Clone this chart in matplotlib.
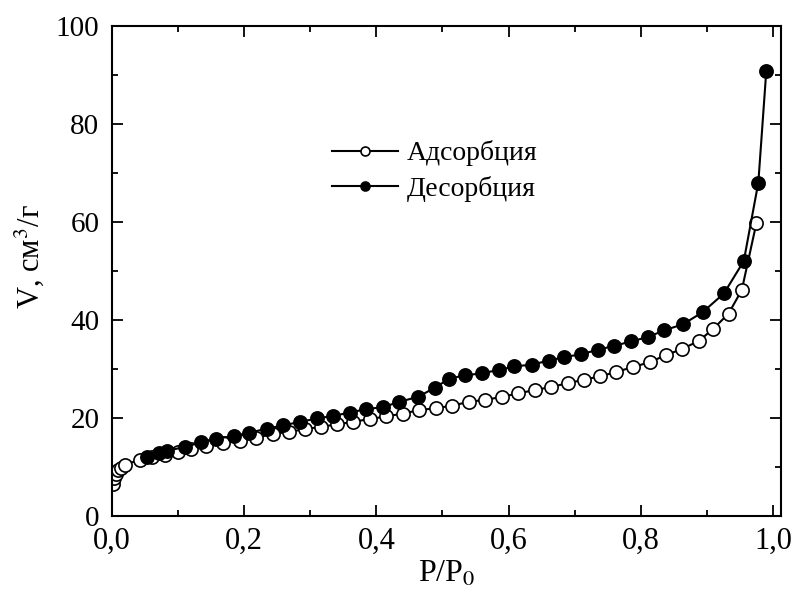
import matplotlib
matplotlib.use("Agg")
import matplotlib.pyplot as plt
from matplotlib.ticker import MultipleLocator

plt.rcParams['font.family'] = ['Liberation Serif', 'DejaVu Serif']
plt.rcParams['mathtext.fontset'] = 'stix'

# adsorption branch
p_ads = [0.001, 0.003, 0.006, 0.009, 0.014, 0.020, 0.043, 0.060, 0.080, 0.100,
         0.120, 0.143, 0.168, 0.193, 0.218, 0.243, 0.268, 0.292, 0.316, 0.341,
         0.365, 0.390, 0.415, 0.440, 0.465, 0.490, 0.515, 0.540, 0.565, 0.590,
         0.614, 0.640, 0.664, 0.690, 0.714, 0.739, 0.763, 0.789, 0.814, 0.838,
         0.863, 0.888, 0.910, 0.933, 0.953, 0.975]
v_ads = [6.6, 7.8, 8.6, 9.3, 9.8, 10.5, 11.5, 12.0, 12.5, 13.0,
         13.6, 14.3, 14.9, 15.4, 16.0, 16.7, 17.2, 17.7, 18.2, 18.7,
         19.2, 19.8, 20.3, 20.9, 21.6, 22.0, 22.5, 23.3, 23.7, 24.3,
         25.0, 25.7, 26.3, 27.1, 27.8, 28.5, 29.4, 30.4, 31.4, 32.8,
         34.1, 35.7, 38.2, 41.3, 46.1, 59.7]

# desorption branch
p_des = [0.053, 0.071, 0.084, 0.110, 0.135, 0.158, 0.184, 0.208, 0.234, 0.259,
         0.285, 0.310, 0.334, 0.360, 0.384, 0.410, 0.435, 0.463, 0.489, 0.510,
         0.534, 0.560, 0.585, 0.609, 0.636, 0.661, 0.684, 0.710, 0.735, 0.760,
         0.785, 0.811, 0.836, 0.864, 0.894, 0.926, 0.956, 0.978, 0.990]
v_des = [12.0, 12.9, 13.3, 14.1, 15.0, 15.8, 16.3, 17.0, 17.8, 18.5,
         19.2, 19.9, 20.4, 21.1, 21.8, 22.2, 23.3, 24.3, 26.2, 28.0,
         28.7, 29.1, 29.8, 30.5, 30.9, 31.7, 32.4, 33.0, 33.9, 34.7,
         35.6, 36.5, 37.9, 39.1, 41.6, 45.4, 52.0, 68.0, 90.7]

fig = plt.figure(figsize=(7.97, 5.94), dpi=100)
ax = fig.add_axes([0.1405, 0.1313, 0.84, 0.8254])

ax.plot(p_ads, v_ads, '-o', color='black', lw=1.5, ms=9.5, mfc='white',
        mec='black', mew=1.2, label='Адсорбция')
ax.plot(p_des, v_des, '-o', color='black', lw=1.5, ms=9.5, mfc='black',
        mec='black', mew=1.2, label='Десорбция')

ax.set_xlim(0, 1.013)
ax.set_ylim(0, 100)
ax.xaxis.set_major_locator(MultipleLocator(0.2))
ax.xaxis.set_minor_locator(MultipleLocator(0.1))
ax.yaxis.set_major_locator(MultipleLocator(20))
ax.yaxis.set_minor_locator(MultipleLocator(10))
ax.xaxis.set_major_formatter(plt.FuncFormatter(lambda v, _: f'{v:.1f}'.replace('.', ',')))

ax.tick_params(which='both', direction='in', top=True, right=True, width=1.3)
ax.tick_params(which='major', length=8)
ax.tick_params(which='minor', length=4.5)
ax.tick_params(axis='x', labelsize=22, pad=7.5)
ax.tick_params(axis='y', labelsize=21, pad=9)
for s in ax.spines.values():
    s.set_linewidth(1.5)

ax.set_xlabel('P/P$_0$', fontsize=23, labelpad=3)
ax.set_ylabel('V, см$^3$/г', fontsize=22)
ax.yaxis.set_label_coords(-0.098, 0.529)

ax.legend(loc='center left', bbox_to_anchor=(0.291, 0.703), frameon=False,
          fontsize=20, markerscale=0.68, handlelength=2.4, handletextpad=0.3,
          labelspacing=0.35)

fig.savefig('out.png', dpi=100)
